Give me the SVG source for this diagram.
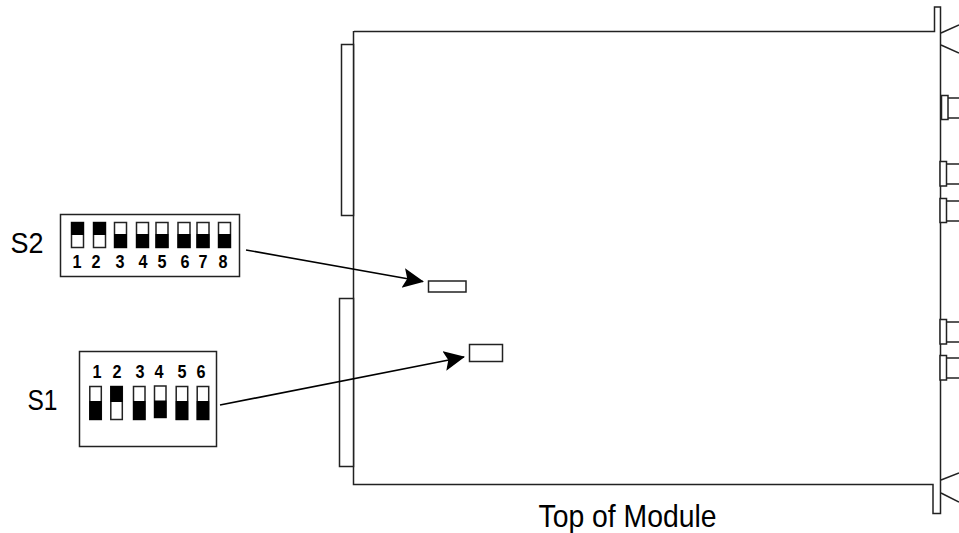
<svg xmlns="http://www.w3.org/2000/svg" width="959" height="533" viewBox="0 0 959 533">
<style>
.l{fill:none;stroke:#222;stroke-width:1.5}
.b{fill:#fff;stroke:#222;stroke-width:1.5}
.k{fill:#000}
.a{stroke:#000;stroke-width:1.6;fill:none;marker-end:url(#ah)}
text{font-family:"Liberation Sans",Arial,sans-serif;fill:#000}
.n{font-size:18px;font-weight:bold;text-anchor:middle}
.t{font-size:29px}
</style>
<defs>
<marker id="ah" markerUnits="userSpaceOnUse" markerWidth="24" markerHeight="24" refX="20" refY="10" orient="auto" viewBox="0 0 24 24"><path d="M0 0L21 10L0 20L4 10Z" fill="#000"/></marker>
<g id="up"><rect class="b" x="0.500" y="0.500" width="12" height="25"/><rect class="k" x="0" y="0" width="13" height="13"/></g>
<g id="dn"><rect class="b" x="0.500" y="0.500" width="12" height="25"/><rect class="k" x="0" y="12" width="13" height="14"/></g>
<g id="up1"><rect class="b" x="0.500" y="0.500" width="11.500" height="33"/><rect class="k" x="0" y="0" width="12.500" height="16"/></g>
<g id="dn1"><rect class="b" x="0.500" y="0.500" width="11.500" height="33"/><rect class="k" x="0" y="15" width="12.500" height="19"/></g>
<g id="dn2"><rect class="b" x="0.500" y="0.500" width="11.500" height="31.500"/><rect class="k" x="0" y="15" width="12.500" height="17.500"/></g>
</defs>
<g id="module">
<path class="l" d="M354 31.500H934.500V7H940.500V513.500H933V484.500H353.500V31"/>
<path class="l" d="M941 33L959 25M941 45L959 53M941 480L959 473M941 493L959 502"/>
<rect class="b" x="341.500" y="44.500" width="12" height="171"/>
<rect class="b" x="339.500" y="298.500" width="14" height="168"/>
</g>
<g id="right-connectors">
<rect class="b" x="941.500" y="95.500" width="6.500" height="24"/><path class="l" d="M948 98H959M948 118H959"/>
<rect class="b" x="940" y="161.500" width="6.500" height="24.500"/><path class="l" d="M947 164H959M947 184H959"/>
<rect class="b" x="940" y="198.500" width="6.500" height="24"/><path class="l" d="M947 201H959M947 221H959"/>
<rect class="b" x="940" y="319.500" width="6.500" height="24.500"/><path class="l" d="M947 322H959M947 342H959"/>
<rect class="b" x="940" y="355.500" width="6.500" height="24.500"/><path class="l" d="M947 358H959M947 378H959"/>
</g>
<g id="target-s2"><rect class="b" x="428.500" y="281" width="37.500" height="11"/></g>
<g id="target-s1"><rect class="b" x="469.500" y="344.500" width="33" height="17"/></g>
<g id="connectors">
<path class="a" d="M246 250L423 281.500"/>
<path class="a" d="M220 405L464 357"/>
</g>
<g id="s2">
<text class="t" x="10.500" y="253" textLength="33" lengthAdjust="spacingAndGlyphs">S2</text>
<rect class="b" x="60.500" y="214.500" width="179" height="62"/>
<use href="#up" x="71" y="222"/><use href="#up" x="93" y="222"/><use href="#dn" x="114" y="222"/><use href="#dn" x="136" y="222"/><use href="#dn" x="155.500" y="222"/><use href="#dn" x="177.500" y="222"/><use href="#dn" x="196.500" y="222"/><use href="#dn" x="218" y="222"/>
<text class="n" x="77" y="268" textLength="9" lengthAdjust="spacingAndGlyphs">1</text><text class="n" x="96" y="268" textLength="9" lengthAdjust="spacingAndGlyphs">2</text><text class="n" x="120" y="268" textLength="9" lengthAdjust="spacingAndGlyphs">3</text><text class="n" x="143" y="268" textLength="9" lengthAdjust="spacingAndGlyphs">4</text><text class="n" x="162" y="268" textLength="9" lengthAdjust="spacingAndGlyphs">5</text><text class="n" x="185" y="268" textLength="9" lengthAdjust="spacingAndGlyphs">6</text><text class="n" x="203" y="268" textLength="9" lengthAdjust="spacingAndGlyphs">7</text><text class="n" x="223" y="268" textLength="9" lengthAdjust="spacingAndGlyphs">8</text>
</g>
<g id="s1">
<text class="t" x="27.500" y="409.500" textLength="30" lengthAdjust="spacingAndGlyphs">S1</text>
<rect class="b" x="79.500" y="351.500" width="137" height="95"/>
<use href="#dn1" x="89.300" y="386"/><use href="#up1" x="110.300" y="386"/><use href="#dn1" x="133" y="386"/><use href="#dn2" x="154" y="385.500"/><use href="#dn1" x="175.700" y="386"/><use href="#dn1" x="196.700" y="386"/>
<text class="n" x="97" y="378" textLength="9" lengthAdjust="spacingAndGlyphs">1</text><text class="n" x="117" y="378" textLength="9" lengthAdjust="spacingAndGlyphs">2</text><text class="n" x="140" y="378" textLength="9" lengthAdjust="spacingAndGlyphs">3</text><text class="n" x="159" y="378" textLength="9" lengthAdjust="spacingAndGlyphs">4</text><text class="n" x="182" y="378" textLength="9" lengthAdjust="spacingAndGlyphs">5</text><text class="n" x="201" y="378" textLength="9" lengthAdjust="spacingAndGlyphs">6</text>
</g>
<g id="caption"><text x="538.500" y="527" font-size="32" textLength="178" lengthAdjust="spacingAndGlyphs">Top of Module</text></g>
</svg>
